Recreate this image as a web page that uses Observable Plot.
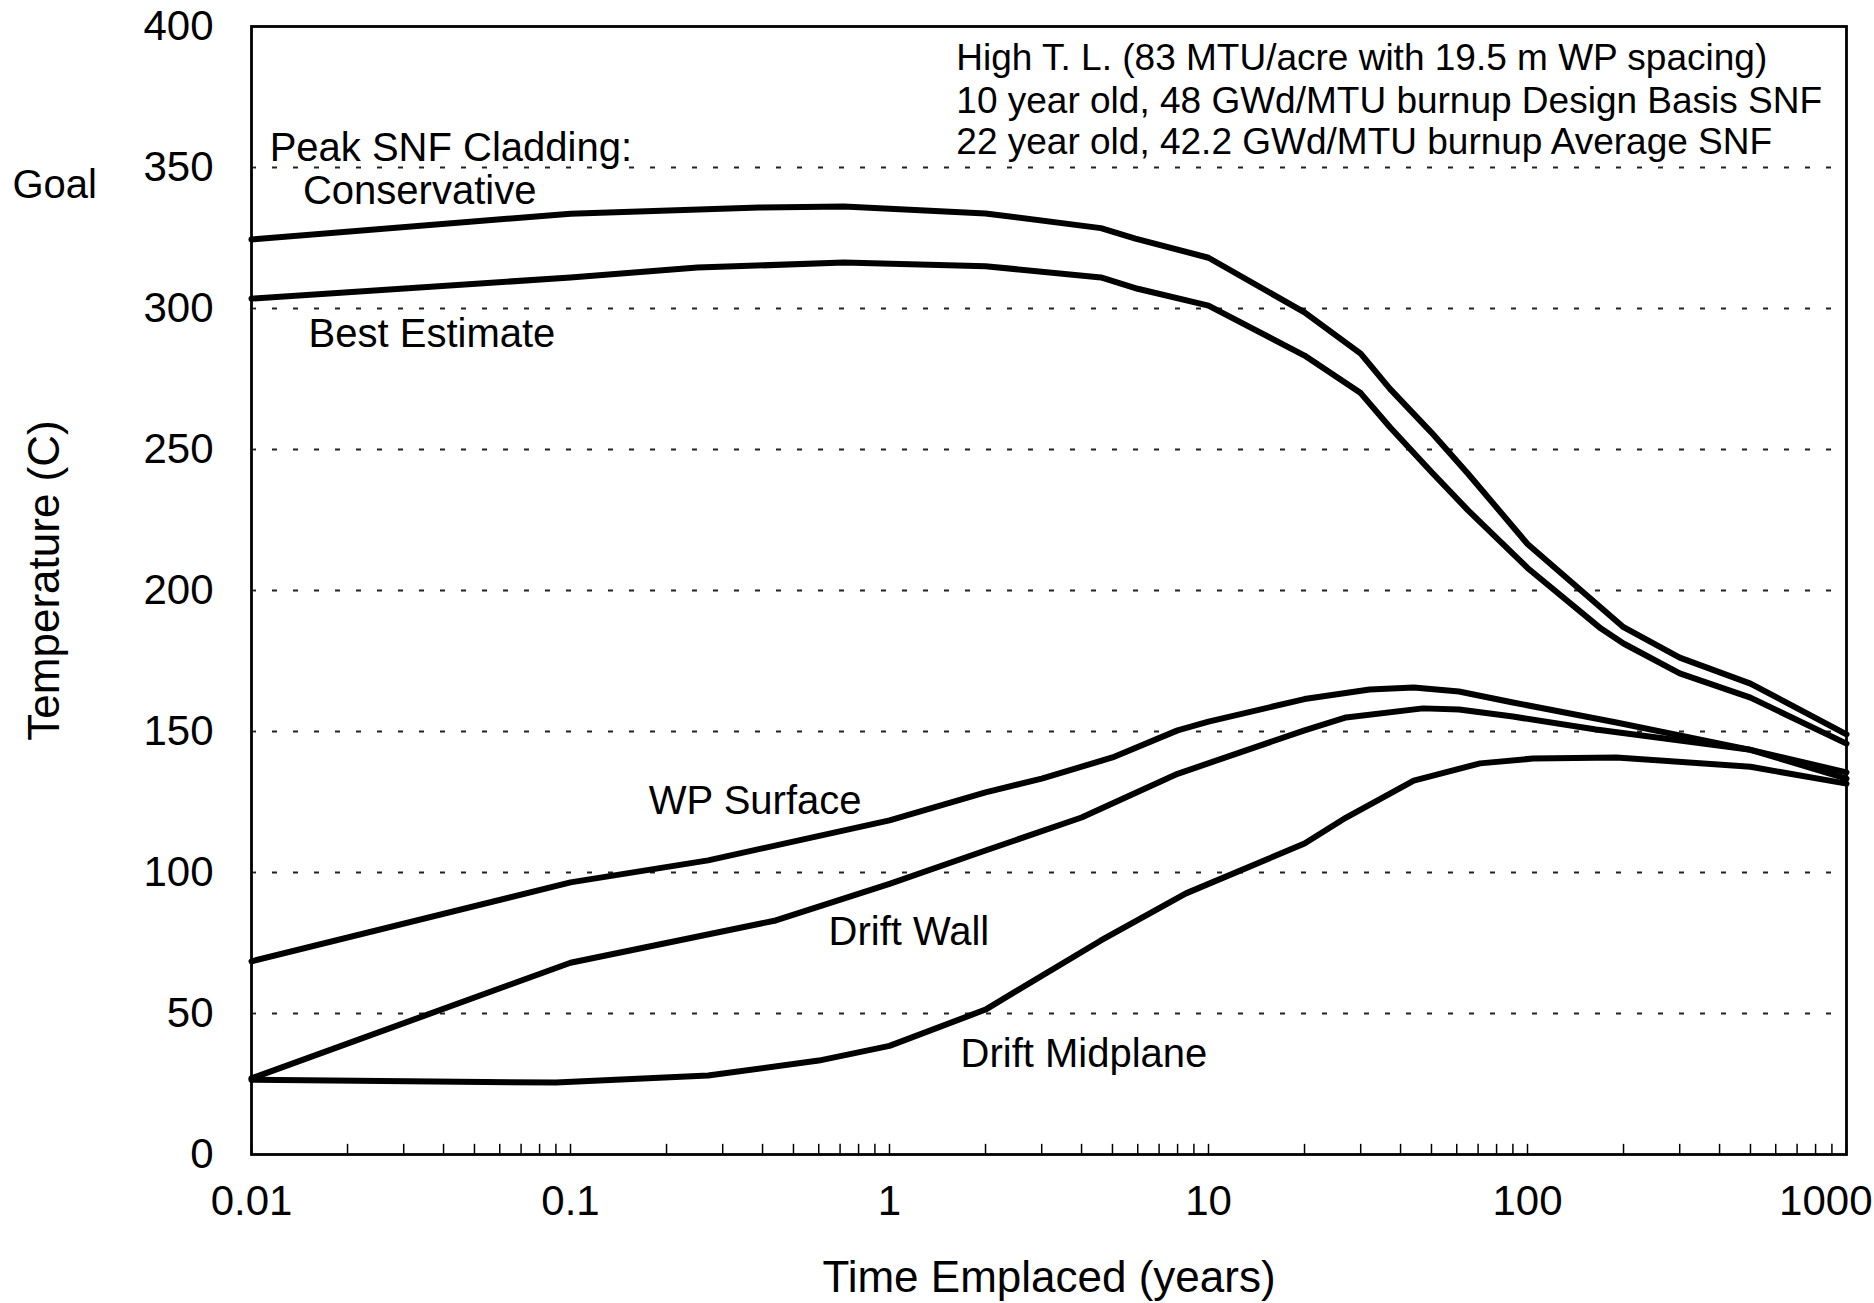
<!DOCTYPE html>
<html><head><meta charset="utf-8">
<script src="https://cdn.jsdelivr.net/npm/d3@7"></script>
<script src="https://cdn.jsdelivr.net/npm/@observablehq/plot@0.6"></script>
<style>html,body{margin:0;padding:0;background:#fff;overflow:hidden}</style>
</head><body><div id="chart"></div>
<script>
// ---- data (time in years, temperature in C) ----
const consT = [0.01, 0.1, 0.39, 0.72, 2, 4.6, 5.9, 10, 20, 30, 37, 50, 65, 100, 200, 300, 500, 1000];
const consV = [324.5, 333.6, 335.8, 336.2, 333.7, 328.5, 324.8, 318, 298.6, 284, 271.6, 256, 241.5, 216.5, 187, 176.2, 167, 149];
const bestT = [0.01, 0.1, 0.25, 0.72, 2, 4.6, 6, 10, 20, 30, 37, 50, 65, 100, 170, 200, 300, 500, 1000];
const bestV = [303.5, 311, 314.5, 316.3, 315, 311, 307, 301, 283.3, 270, 258, 242, 228.5, 208, 186.5, 181.2, 170.6, 162, 145.7];
const wpT = [0.01, 0.1, 0.27, 1, 2, 3, 5, 8, 10, 20, 32, 44, 61, 90, 190, 500, 1000];
const wpV = [68.5, 96.5, 104.3, 118.5, 128.4, 133.3, 140.8, 150.4, 153.5, 161.5, 164.9, 165.6, 164.2, 160.3, 153.2, 143.5, 135.5];
const wallT = [0.01, 0.1, 0.44, 1, 2, 4, 8, 20, 27, 47, 61, 90, 164, 500, 1000];
const wallV = [27, 68, 83, 96, 107.8, 119.5, 135, 150.4, 155, 158.2, 157.8, 155.3, 150.7, 143.5, 133.3];
const midT = [0.01, 0.09, 0.27, 0.6, 1, 2, 4.6, 8.5, 20, 27, 44, 71, 104, 190, 500, 1000];
const midV = [26.5, 25.5, 28, 33.3, 38.5, 51.4, 75.9, 92.6, 110.3, 119.5, 132.6, 138.7, 140.4, 140.8, 137.5, 131.5];

const seriesNames = ["Conservative", "Best Estimate", "WP Surface", "Drift Wall", "Drift Midplane"];

const xTicks = [0.01, 0.1, 1, 10, 100];
const xTickLabels = ["0.01", "0.1", "1", "10", "100"];
const xLastTick = 1000;
const xLastTickLabel = "1000";
const yTicks = [0, 50, 100, 150, 200, 250, 300, 350, 400];
const yTickLabels = ["0", "50", "100", "150", "200", "250", "300", "350", "400"];
const gridValues = [50, 100, 150, 200, 250, 300, 350];

const curveLabels = ["Peak SNF Cladding:", "Conservative", "Best Estimate", "WP Surface", "Drift Wall", "Drift Midplane"];
const curveLabelT = [0.0114, 0.0145, 0.0151, 0.176, 0.644, 1.67];
const curveLabelV = [357, 341.5, 291, 125.2, 78.7, 35.5];

const noteLines = [
  "High T. L. (83 MTU/acre with 19.5 m WP spacing)",
  "10 year old, 48 GWd/MTU burnup Design Basis SNF",
  "22 year old, 42.2 GWd/MTU burnup Average SNF"
];
const noteT = [1.62, 1.62, 1.62];
const noteV = [388.7, 373.4, 358.9];

const goalText = "Goal";
const goalV = 343.6;
const xTitle = "Time Emplaced (years)";
const yTitle = "Temperature (C)";

// ---- build tables ----
const allT = [consT, bestT, wpT, wallT, midT];
const allV = [consV, bestV, wpV, wallV, midV];
const lineData = [];
seriesNames.forEach((s, k) => allT[k].forEach((t, i) => lineData.push({series: s, t, v: allV[k][i]})));
const labelData = curveLabels.map((text, i) => ({text, t: curveLabelT[i], v: curveLabelV[i]}));
const noteData = noteLines.map((text, i) => ({text, t: noteT[i], v: noteV[i]}));
const minorTicks = d3.scaleLog().domain([0.01, 1000]).ticks();

const font = "'Liberation Sans', Arial, Helvetica, sans-serif";

const chart = Plot.plot({
  width: 1874,
  height: 1303,
  marginLeft: 251,
  marginRight: 28,
  marginTop: 26,
  marginBottom: 149,
  style: {fontFamily: font, fontSize: "42px", color: "#000", background: "#fff"},
  x: {type: "log", domain: [0.01, 1000]},
  y: {domain: [0, 400]},
  marks: [
    Plot.ruleY(gridValues, {stroke: "#222", strokeWidth: 1.8, strokeDasharray: "5,16"}),
    Plot.ruleX(minorTicks, {y1: 0, y2: 3.6, stroke: "#000", strokeWidth: 1.5}),
    Plot.line(lineData, {x: "t", y: "v", z: "series", stroke: "#000", strokeWidth: 6, curve: "linear", strokeLinejoin: "round"}),
    Plot.frame({stroke: "#000", strokeWidth: 2.8}),
    Plot.axisX({ticks: xTicks, tickSize: 0, tickPadding: 31, label: null, fontSize: 42,
      tickFormat: d => xTickLabels[xTicks.indexOf(d)]}),
    Plot.text([{t: xLastTick, text: xLastTickLabel}], {x: "t", text: "text", frameAnchor: "bottom", dy: 31, lineAnchor: "top", textAnchor: "end", dx: 26, fontSize: 42, fill: "#000"}),
    Plot.axisY({ticks: yTicks, tickSize: 0, tickPadding: 38, label: null, fontSize: 42,
      tickFormat: d => yTickLabels[yTicks.indexOf(d)]}),
    Plot.text(labelData, {x: "t", y: "v", text: "text", textAnchor: "start", fontSize: 40, fill: "#000"}),
    Plot.text(noteData, {x: "t", y: "v", text: "text", textAnchor: "start", fontSize: 37, fill: "#000"}),
    Plot.text([{text: goalText, v: goalV}], {y: "v", text: "text", frameAnchor: "left", dx: -239, textAnchor: "start", fontSize: 40, fill: "#000"}),
    Plot.text([yTitle], {frameAnchor: "left", dx: -207, dy: -10, rotate: -90, text: d => d, textAnchor: "middle", fontSize: 44, fill: "#000"}),
    Plot.text([xTitle], {frameAnchor: "bottom", dy: 137, text: d => d, textAnchor: "middle", fontSize: 44, fill: "#000"})
  ]
});
document.getElementById("chart").appendChild(chart);
</script>
</body></html>
